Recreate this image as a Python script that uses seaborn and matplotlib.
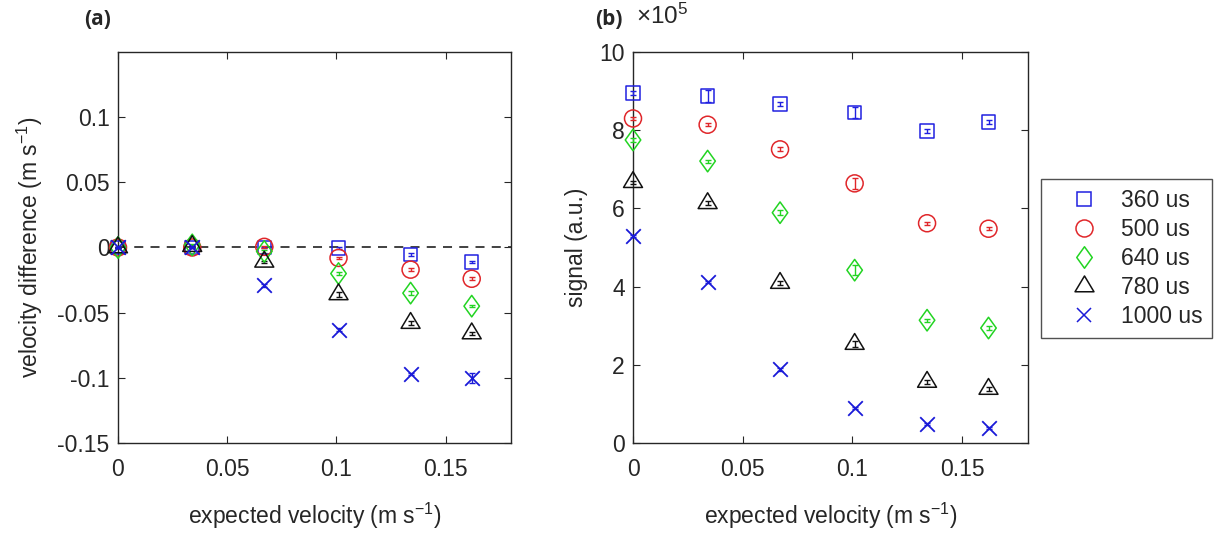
import numpy as np
import matplotlib
matplotlib.use("Agg")
import matplotlib.pyplot as plt
from matplotlib.path import Path
from matplotlib.lines import Line2D
from matplotlib.ticker import FuncFormatter
import seaborn as sns

# ---------------- data ----------------
velocity = [0.0, 0.034, 0.067, 0.101, 0.134, 0.162]
series_names = ["360 us", "500 us", "640 us", "780 us", "1000 us"]

# panel (a): velocity difference (m/s)
vdiff_360 = [0.0, 0.0, 0.0, -0.0005, -0.0055, -0.011]
vdiff_500 = [0.0, 0.0, 0.0005, -0.008, -0.017, -0.024]
vdiff_640 = [0.0, 0.002, -0.003, -0.020, -0.035, -0.045]
vdiff_780 = [0.0, 0.001, -0.011, -0.036, -0.058, -0.066]
vdiff_1000 = [0.0, 0.0, -0.029, -0.063, -0.097, -0.100]
vdiff_err_360 = [0.0005, 0.0005, 0.0005, 0.0005, 0.001, 0.001]
vdiff_err_500 = [0.0005, 0.0005, 0.001, 0.001, 0.001, 0.001]
vdiff_err_640 = [0.0005, 0.0005, 0.001, 0.001, 0.0015, 0.001]
vdiff_err_780 = [0.0005, 0.0005, 0.001, 0.002, 0.0015, 0.001]
vdiff_err_1000 = [0.0005, 0.0005, 0.001, 0.001, 0.001, 0.004]

# panel (b): signal (a.u.)
sig_360 = [8.95e5, 8.88e5, 8.67e5, 8.45e5, 7.98e5, 8.21e5]
sig_500 = [8.30e5, 8.14e5, 7.51e5, 6.64e5, 5.62e5, 5.48e5]
sig_640 = [7.75e5, 7.21e5, 5.89e5, 4.42e5, 3.14e5, 2.94e5]
sig_780 = [6.67e5, 6.13e5, 4.09e5, 2.53e5, 1.56e5, 1.38e5]
sig_1000 = [5.29e5, 4.12e5, 1.88e5, 0.89e5, 0.48e5, 0.38e5]
sig_err_360 = [0.06e5, 0.15e5, 0.06e5, 0.14e5, 0.04e5, 0.04e5]
sig_err_500 = [0.04e5, 0.04e5, 0.05e5, 0.14e5, 0.04e5, 0.04e5]
sig_err_640 = [0.05e5, 0.04e5, 0.06e5, 0.12e5, 0.04e5, 0.04e5]
sig_err_780 = [0.04e5, 0.05e5, 0.05e5, 0.08e5, 0.04e5, 0.04e5]
sig_err_1000 = [0.03e5, 0.03e5, 0.03e5, 0.03e5, 0.03e5, 0.03e5]

vdiff_all = [vdiff_360, vdiff_500, vdiff_640, vdiff_780, vdiff_1000]
vdiff_err_all = [vdiff_err_360, vdiff_err_500, vdiff_err_640, vdiff_err_780, vdiff_err_1000]
sig_all = [sig_360, sig_500, sig_640, sig_780, sig_1000]
sig_err_all = [sig_err_360, sig_err_500, sig_err_640, sig_err_780, sig_err_1000]

a_yticks = [-0.15, -0.1, -0.05, 0, 0.05, 0.1]
a_yticklabels = ["-0.15", "-0.1", "-0.05", "0", "0.05", "0.1"]
xticks = [0, 0.05, 0.1, 0.15]
xticklabels = ["0", "0.05", "0.1", "0.15"]
b_yticks = [0, 2e5, 4e5, 6e5, 8e5, 10e5]
b_scale = 1e5

# ---------------- style ----------------
sns.set_theme(style="ticks")
plt.rcParams["font.family"] = ["Liberation Sans", "DejaVu Sans"]
plt.rcParams["mathtext.fontset"] = "custom"
plt.rcParams["mathtext.rm"] = "Liberation Sans"
plt.rcParams["mathtext.it"] = "Liberation Sans"
FS = 16.5
TXT = "#262626"

colors = ["#2020e0", "#e0262a", "#22d422", "#111111", "#1a1ad8"]
diamond = Path([(0, 1), (0.72, 0), (0, -1), (-0.72, 0), (0, 1)],
               [Path.MOVETO, Path.LINETO, Path.LINETO, Path.LINETO, Path.CLOSEPOLY])
triangle = Path([(0, 1), (0.9, -0.5), (-0.9, -0.5), (0, 1)],
                [Path.MOVETO, Path.LINETO, Path.LINETO, Path.CLOSEPOLY])
markers = ["s", "o", diamond, triangle, "x"]
sizes = [95, 150, 240, 230, 110]
filled_style = [True, True, True, True, False]

fig = plt.figure(figsize=(12.15, 5.35), dpi=100)
ax_a = fig.add_axes([0.0971, 0.1720, 0.3235, 0.7308])
ax_b = fig.add_axes([0.5210, 0.1720, 0.3251, 0.7308])


def draw(ax, ys_all, errs_all):
    for name, ys, errs, c, m, s, f in zip(series_names, ys_all, errs_all, colors,
                                           markers, sizes, filled_style):
        ax.errorbar(velocity, ys, yerr=errs, fmt="none", ecolor=c,
                    elinewidth=1.0, capsize=2.2, capthick=1.0, clip_on=False, zorder=3)
        if f:
            sns.scatterplot(x=velocity, y=ys, ax=ax, marker=m, s=s,
                            facecolor="none", edgecolor=c, linewidth=1.1,
                            clip_on=False, zorder=4, legend=False)
        else:
            sns.scatterplot(x=velocity, y=ys, ax=ax, marker=m, s=s,
                            color=c, linewidth=1.3,
                            clip_on=False, zorder=4, legend=False)


draw(ax_a, vdiff_all, vdiff_err_all)
draw(ax_b, sig_all, sig_err_all)

ax_a.axhline(0, color="#333333", linestyle=(0, (5, 4)), linewidth=1.3, zorder=2)

for ax in (ax_a, ax_b):
    ax.set_xlim(0, 0.18)
    ax.set_xticks(xticks)
    ax.set_xticklabels(xticklabels)
    ax.tick_params(direction="in", top=True, right=True, length=5, width=0.8,
                   labelsize=FS, colors=TXT, pad=6)
    ax.tick_params(axis="x", pad=11)
    for sp in ax.spines.values():
        sp.set_color(TXT)
        sp.set_linewidth(1.0)
    ax.set_xlabel("expected velocity (m s$^{-1}$)", fontsize=FS, color=TXT, labelpad=14)

ax_a.set_ylim(-0.15, 0.15)
ax_a.set_yticks(a_yticks)
ax_a.set_yticklabels(a_yticklabels)
ax_a.set_ylabel("velocity difference (m s$^{-1}$)", fontsize=FS, color=TXT, labelpad=9)

ax_b.set_ylim(0, 10e5)
ax_b.set_yticks(b_yticks)
ax_b.yaxis.set_major_formatter(FuncFormatter(lambda v, p: f"{v / b_scale:g}"))
ax_b.set_ylabel("signal (a.u.)", fontsize=FS, color=TXT, labelpad=8)
fig.text(0.5235, 0.970, r"$\times$10$^{5}$", fontsize=17.5, color=TXT, ha="left", va="center")

fig.text(0.069, 0.964, "(a)", fontsize=15, fontweight="bold", ha="left", va="center",
         family=["Open Sans", "DejaVu Sans"])
fig.text(0.490, 0.964, "(b)", fontsize=15, fontweight="bold", ha="left", va="center",
         family=["Open Sans", "DejaVu Sans"])

handles = []
for name, c, m, s, f in zip(series_names, colors, markers, sizes, filled_style):
    handles.append(Line2D([], [], linestyle="none", marker=m, markersize=np.sqrt(s),
                          markerfacecolor="none", markeredgecolor=c, color=c,
                          markeredgewidth=1.1, label=name))
leg = fig.legend(handles=handles, loc="upper left", bbox_to_anchor=(0.8568, 0.6654),
                 frameon=True, fancybox=False, fontsize=FS, labelspacing=0.27,
                 handletextpad=0.15, borderpad=0.42, borderaxespad=0, handlelength=2.9)
leg.get_frame().set_edgecolor(TXT)
leg.get_frame().set_linewidth(1.0)
for t in leg.get_texts():
    t.set_color(TXT)

fig.savefig("out.png", dpi=100)
